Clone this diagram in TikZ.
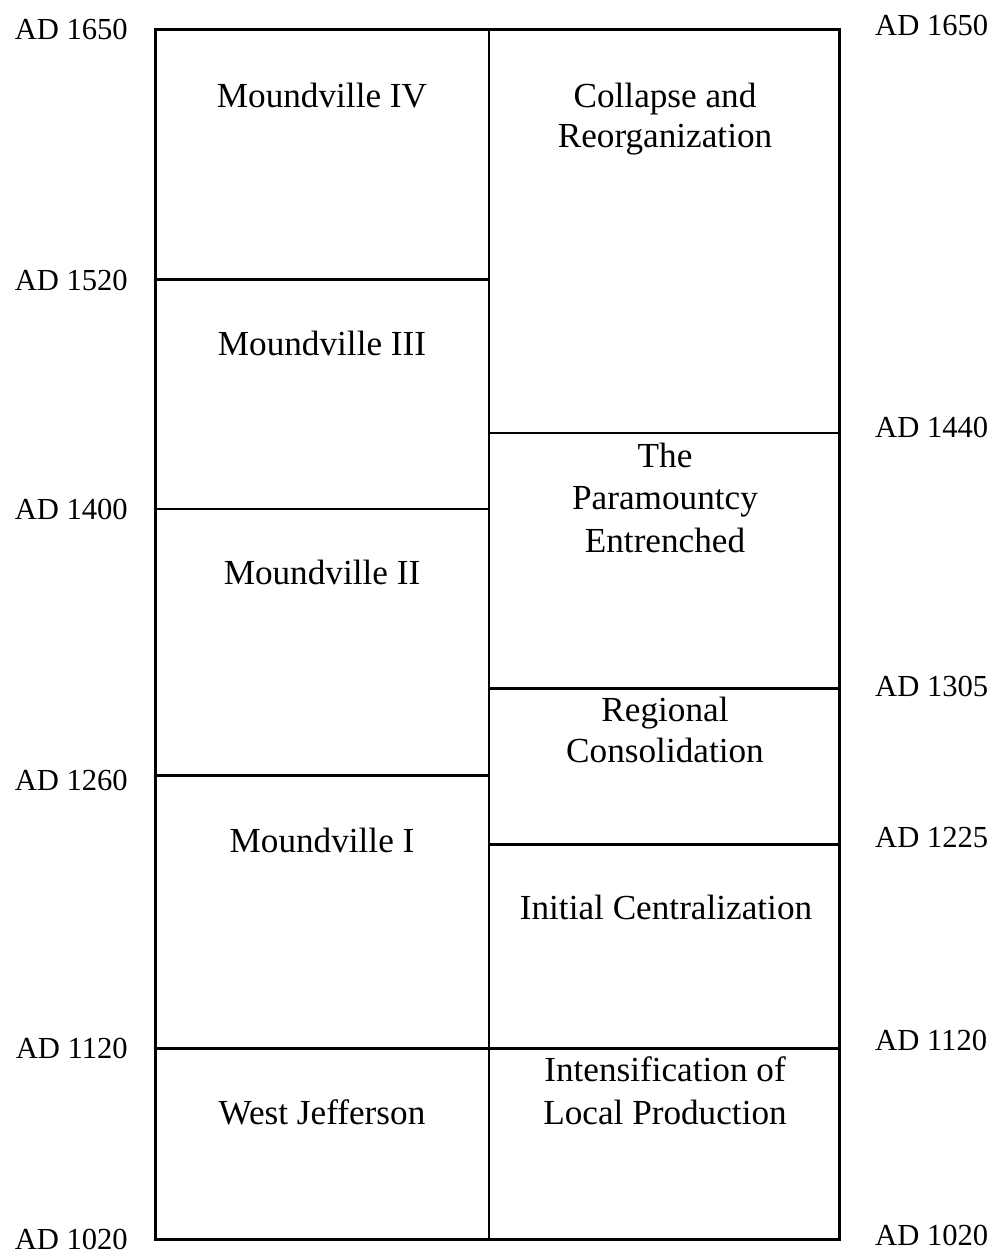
\documentclass[tikz,border=0pt]{standalone}
\usepackage{fontspec}
\setmainfont{Liberation Serif}
\begin{document}
\begin{tikzpicture}[x=1pt,y=-1pt,
  thickline/.style={line width=3pt},
  thinline/.style={line width=2pt},
  datelbl/.style={font=\fontsize{30.6}{36}\selectfont, inner sep=0pt},
  phase/.style={font=\fontsize{35.2}{42}\selectfont, inner sep=0pt, align=center}]
\useasboundingbox (0,0) rectangle (995,1256);
% frame
\draw[thickline] (155,29) rectangle (839,1239);
\draw[thinline] (489,29) -- (489,1239);
% left divisions
\draw[thickline] (155,279) -- (489,279);
\draw[thinline] (155,509) -- (489,509);
\draw[thickline] (155,775) -- (489,775);
\draw[thickline] (155,1048) -- (839,1048);
% right divisions
\draw[thinline] (489,433) -- (839,433);
\draw[thickline] (489,688) -- (839,688);
\draw[thickline] (489,844) -- (839,844);
% left dates
\node[datelbl, anchor=base east] (l1650) at (128,39) {AD 1650};
\node[datelbl, anchor=base east] (l1520) at (128,290) {AD 1520};
\node[datelbl, anchor=base east] (l1400) at (128,519) {AD 1400};
\node[datelbl, anchor=base east] (l1260) at (128,790) {AD 1260};
\node[datelbl, anchor=base east] (l1120) at (128,1058) {AD 1120};
\node[datelbl, anchor=base east] (l1020) at (128,1249) {AD 1020};
% right dates
\node[datelbl, anchor=base west] (r1650) at (875,35) {AD 1650};
\node[datelbl, anchor=base west] (r1440) at (875,437) {AD 1440};
\node[datelbl, anchor=base west] (r1305) at (875,696) {AD 1305};
\node[datelbl, anchor=base west] (r1225) at (875,847) {AD 1225};
\node[datelbl, anchor=base west] (r1120) at (875,1050) {AD 1120};
\node[datelbl, anchor=base west] (r1020) at (875,1245) {AD 1020};
% left phases
\node[phase, anchor=base] (m4) at (322,107) {Moundville IV};
\node[phase, anchor=base] (m3) at (322,355) {Moundville III};
\node[phase, anchor=base] (m2) at (322,584) {Moundville II};
\node[phase, anchor=base] (m1) at (322,852) {Moundville I};
\node[phase, anchor=base] (wj) at (322,1124) {West Jefferson};
% right phases
\node[phase, anchor=base] (cr1) at (665,107) {Collapse and};
\node[phase, anchor=base] (cr2) at (665,147) {Reorganization};
\node[phase, anchor=base] (pe1) at (665,467) {The};
\node[phase, anchor=base] (pe2) at (665,509) {Paramountcy};
\node[phase, anchor=base] (pe3) at (665,552) {Entrenched};
\node[phase, anchor=base] (rc1) at (665,721) {Regional};
\node[phase, anchor=base] (rc2) at (665,762) {Consolidation};
\node[phase, anchor=base] (ic) at (666,919) {Initial Centralization};
\node[phase, anchor=base] (il1) at (665,1081) {Intensification of};
\node[phase, anchor=base] (il2) at (665,1124) {Local Production};
\end{tikzpicture}
\end{document}
